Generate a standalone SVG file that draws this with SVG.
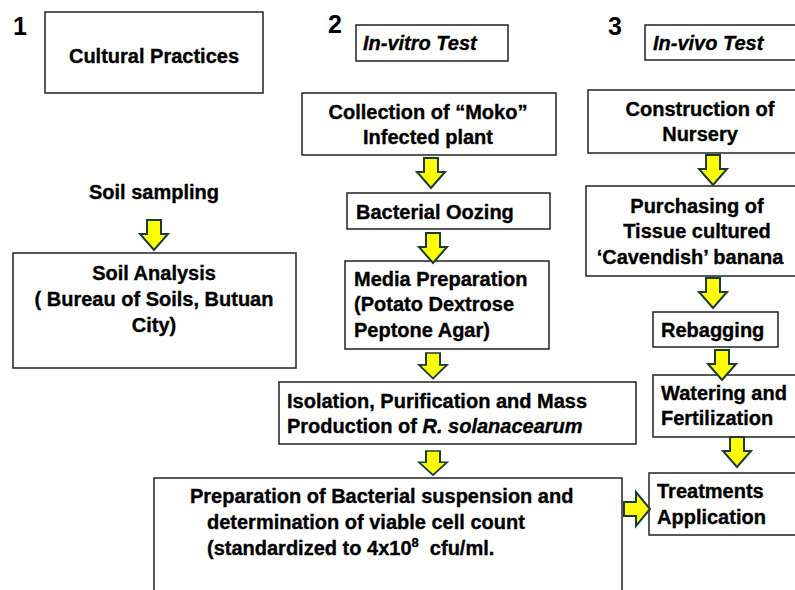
<svg xmlns="http://www.w3.org/2000/svg" xmlns:xlink="http://www.w3.org/1999/xlink" width="795" height="590" viewBox="0 0 795 590">
<defs>
<style>
.box{fill:#fff;stroke:#222;stroke-width:1.5}
.t{font-family:"Liberation Sans",Arial,sans-serif;font-weight:bold;font-size:20px;fill:#000;stroke:#000;stroke-width:0.35}
.c{text-anchor:middle}
.num{font-family:"Liberation Sans",Arial,sans-serif;font-weight:bold;font-size:25px;fill:#000}
.arr{fill:#ffff00;stroke:#1b3b3b;stroke-width:2;stroke-linejoin:miter}
</style>
<path id="down" d="M-7,0 H7 V14 H14 L0,30 L-14,14 H-7 Z"/>
</defs>
<rect width="795" height="590" fill="#fff"/>

<g id="num1"><text class="num" x="13" y="35">1</text></g>
<g id="num2"><text class="num" x="328" y="33">2</text></g>
<g id="num3"><text class="num" x="608" y="35">3</text></g>

<g id="cultural">
<rect class="box" x="45" y="12" width="218" height="81"/>
<text class="t c" x="154" y="63">Cultural Practices</text>
</g>

<g id="soil-sampling">
<text class="t c" x="154" y="199">Soil sampling</text>
</g>

<g id="soil-analysis">
<rect class="box" x="13" y="253" width="283" height="115"/>
<text class="t c" x="154" y="280">Soil Analysis</text>
<text class="t c" x="154" y="306">( Bureau of Soils, Butuan</text>
<text class="t c" x="154" y="332">City)</text>
</g>

<g id="invitro">
<rect class="box" x="356" y="25" width="152" height="36"/>
<text class="t" x="363" y="50" font-style="italic">In-vitro Test</text>
</g>

<g id="collection">
<rect class="box" x="302" y="93" width="254" height="62"/>
<text class="t c" x="428" y="119">Collection of “Moko”</text>
<text class="t c" x="428" y="144">Infected plant</text>
</g>

<g id="oozing">
<rect class="box" x="347" y="193" width="203" height="36"/>
<text class="t" x="356" y="219">Bacterial Oozing</text>
</g>

<g id="media">
<rect class="box" x="345" y="261" width="204" height="88"/>
<text class="t" x="354" y="286">Media Preparation</text>
<text class="t" x="354" y="311">(Potato Dextrose</text>
<text class="t" x="354" y="337">Peptone Agar)</text>
</g>

<g id="isolation">
<rect class="box" x="279" y="382" width="357" height="62"/>
<text class="t" x="287" y="408">Isolation, Purification and Mass</text>
<text class="t" x="287" y="433">Production of <tspan font-style="italic">R. solanacearum</tspan></text>
</g>

<g id="preparation">
<rect class="box" x="154" y="478" width="468" height="120"/>
<text class="t" x="190" y="503">Preparation of Bacterial suspension and</text>
<text class="t" x="207" y="529">determination of viable cell count</text>
<text class="t" x="207" y="555">(standardized to 4x10<tspan font-size="13" dy="-8">8</tspan><tspan dy="8">&#160; cfu/ml.</tspan></text>
</g>

<g id="invivo">
<rect class="box" x="645" y="25" width="160" height="35"/>
<text class="t" x="653" y="50" font-style="italic">In-vivo Test</text>
</g>

<g id="construction">
<rect class="box" x="588" y="90" width="215" height="63"/>
<text class="t c" x="700" y="116">Construction of</text>
<text class="t c" x="700" y="141">Nursery</text>
</g>

<g id="purchasing">
<rect class="box" x="586" y="186" width="217" height="90"/>
<text class="t c" x="697" y="213">Purchasing of</text>
<text class="t c" x="697" y="238">Tissue cultured</text>
<text class="t c" x="690" y="264">‘Cavendish’ banana</text>
</g>

<g id="rebagging">
<rect class="box" x="653" y="312" width="125" height="35"/>
<text class="t" x="661" y="337">Rebagging</text>
</g>

<g id="watering">
<rect class="box" x="653" y="375" width="150" height="62"/>
<text class="t" x="661" y="400">Watering and</text>
<text class="t" x="661" y="425">Fertilization</text>
</g>

<g id="treatments">
<rect class="box" x="649" y="473" width="155" height="62"/>
<text class="t" x="657" y="498">Treatments</text>
<text class="t" x="657" y="524">Application</text>
</g>

<g id="connectors">
<use xlink:href="#down" class="arr" transform="translate(154,220)"/>
<use xlink:href="#down" class="arr" transform="translate(431,158)"/>
<use xlink:href="#down" class="arr" transform="translate(433,233)"/>
<use xlink:href="#down" class="arr" transform="translate(433,353) scale(1,0.85)"/>
<use xlink:href="#down" class="arr" transform="translate(433,451) scale(1,0.8)"/>
<use xlink:href="#down" class="arr" transform="translate(713,155)"/>
<use xlink:href="#down" class="arr" transform="translate(713,278)"/>
<use xlink:href="#down" class="arr" transform="translate(722,350)"/>
<use xlink:href="#down" class="arr" transform="translate(737,437)"/>
<path class="arr" d="M624,502 H636 V492 L650,509 L636,526 V516 H624 Z"/>
</g>
</svg>
